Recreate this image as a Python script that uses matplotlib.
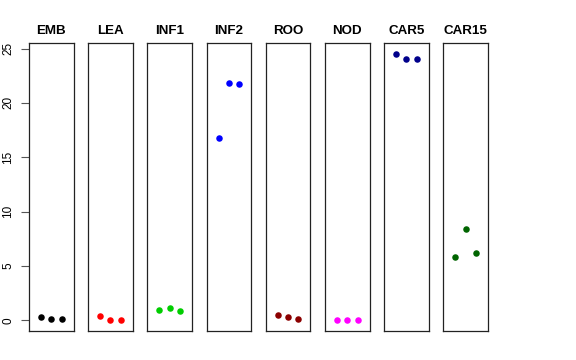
import matplotlib
matplotlib.use('Agg')
import matplotlib.pyplot as plt

# panel names and colours
TISSUES = ['EMB', 'LEA', 'INF1', 'INF2', 'ROO', 'NOD', 'CAR5', 'CAR15']
COLORS = ['#000000', '#FF0000', '#00CD00', '#0000FF', '#8B0000', '#FF00FF', '#00008B', '#006400']

# three replicates per tissue
EMB = [0.28, 0.15, 0.15]
LEA = [0.40, 0.02, 0.07]
INF1 = [0.92, 1.13, 0.83]
INF2 = [16.74, 21.87, 21.74]
ROO = [0.46, 0.30, 0.12]
NOD = [0.0, 0.0, 0.0]
CAR5 = [24.50, 24.04, 24.04]
CAR15 = [5.82, 8.44, 6.16]

VALUES = [EMB, LEA, INF1, INF2, ROO, NOD, CAR5, CAR15]
REPS = [1, 2, 3]
Y_TICKS = [0, 5, 10, 15, 20, 25]

plt.rcParams['font.family'] = ['Liberation Sans', 'DejaVu Sans']

W, H = 576, 360
fig = plt.figure(figsize=(W / 100, H / 100), dpi=100)

lo = min(min(v) for v in VALUES)
hi = max(max(v) for v in VALUES)
span = hi - lo
ylim = (lo - 0.04 * span, hi + 0.04 * span)

for i, (name, vals, col) in enumerate(zip(TISSUES, VALUES, COLORS)):
    left = 29 + i * 59.2
    ax = fig.add_axes([left / W, 29 / H, 44.5 / W, 287.7 / H])
    ax.scatter(REPS, vals, s=22, color=col, linewidths=0, zorder=3)
    ax.set_xlim(-0.16, 4.16)
    ax.set_ylim(*ylim)
    ax.set_xticks([])
    for sp in ax.spines.values():
        sp.set_linewidth(0.9)
        sp.set_color('#222222')
    ax.set_title(name, fontsize=9.6, fontweight='bold', pad=6.5)
    if i == 0:
        ax.set_yticks(Y_TICKS)
        ax.tick_params(axis='y', length=5.5, width=0.8, color='#555555', pad=5, labelsize=8.5)
        for lab in ax.get_yticklabels():
            lab.set_rotation(90)
            lab.set_va('center')
    else:
        ax.set_yticks([])

fig.savefig('out.png', dpi=100)
